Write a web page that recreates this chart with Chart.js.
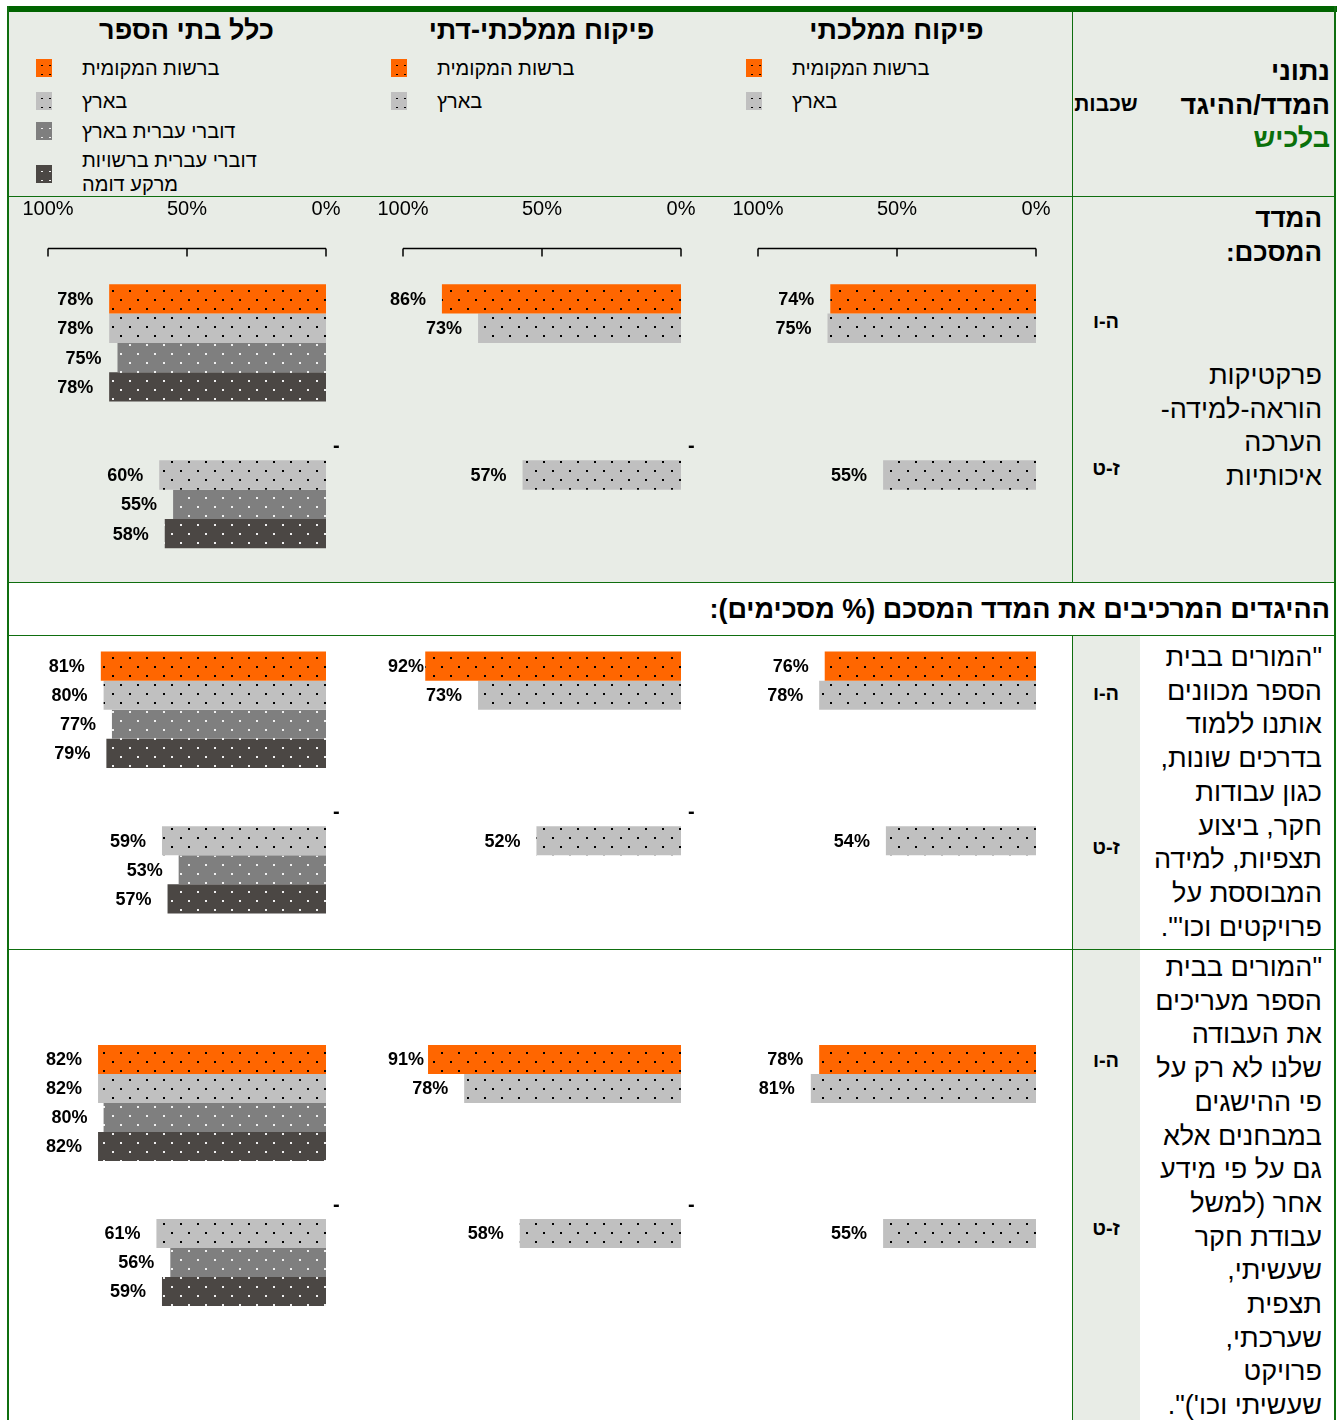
<!DOCTYPE html>
<html lang="he">
<head>
<meta charset="utf-8">
<title>המדד המסכם - לכיש</title>
<script src="https://cdn.jsdelivr.net/npm/chart.js@4.4.1/dist/chart.umd.min.js"></script>
<style>
  body { margin: 0; background: #fff; font-family: "Liberation Sans", Arial, sans-serif; color: #000; }
  #page { position: relative; width: 1338px; height: 1420px; overflow: hidden; }
  .abs { position: absolute; }
  .bg { position: absolute; background: #e8ece6; }
  .hl { position: absolute; height: 1px; background: #0f6e0f; }
  .vl { position: absolute; width: 1px; background: #0f6e0f; }
  .txt { position: absolute; direction: rtl; text-align: right; white-space: nowrap; }
  .big { font-size: 27px; line-height: 33.7px; }
  .bigb { font-size: 26px; line-height: 33.7px; font-weight: bold; }
  .grade { position: absolute; left: 1072px; width: 68px; text-align: center; font-weight: bold; font-size: 20px; line-height: 22px; direction: ltr; }
  .coltitle { position: absolute; top: 12px; height: 36px; line-height: 36px; width: 355px; text-align: center; font-weight: bold; font-size: 27px; direction: rtl; }
  .lg-box { position: absolute; width: 16px; height: 18px; background-size: 8px 9px; background-position: 2px 2px; }
  .lg-txt { position: absolute; font-size: 20px; line-height: 24px; direction: rtl; text-align: left; white-space: nowrap; }
  canvas { position: absolute; }
</style>
</head>
<body>
<div id="page">
  <!-- רקעים -->
  <div class="bg" style="left:7px; top:12px; width:1328px; height:570px;"></div>
  <div class="bg" style="left:1072px; top:635px; width:68px; height:785px;"></div>

  <!-- קווי טבלה -->
  <div class="abs" style="left:7px; top:6px; width:1330px; height:6px; background:#006400;"></div>
  <div class="vl" style="left:7px; top:6px; height:1414px; width:2px;"></div>
  <div class="vl" style="left:1334px; top:6px; height:1414px; width:2px;"></div>
  <div class="hl" style="left:7px; top:196px; width:1328px;"></div>
  <div class="hl" style="left:7px; top:582px; width:1328px;"></div>
  <div class="hl" style="left:7px; top:635px; width:1328px;"></div>
  <div class="hl" style="left:7px; top:949px; width:1328px;"></div>
  <div class="vl" style="left:1072px; top:12px; height:570px;"></div>
  <div class="vl" style="left:1072px; top:635px; height:785px;"></div>

  <!-- כותרת עמודה ימנית -->
  <div class="txt bigb" style="right:8px; top:55px; font-size:27px;">נתוני<br>המדד/ההיגד<br><span style="color:#0a700a;">בלכיש</span></div>
  <div class="txt" style="left:1073px; width:66px; top:92px; font-size:21px; line-height:24px; font-weight:bold; text-align:center;">שכבות</div>

  <!-- שורת המדד המסכם -->
  <div class="txt bigb" style="right:16px; top:202px;">המדד<br>המסכם:</div>
  <div class="txt big" style="right:16px; top:359px;">פרקטיקות<br>הוראה-למידה-<br>הערכה<br>איכותיות</div>
  <div class="grade" style="top:310px;">ה-ו</div>
  <div class="grade" style="top:457px;">ז-ט</div>

  <!-- כותרת ביניים -->
  <div class="txt" style="right:8px; top:593px; font-size:27px; line-height:32px; font-weight:bold;">ההיגדים המרכיבים את המדד המסכם (% מסכימים):</div>

  <!-- היגד 1 -->
  <div class="txt big" style="right:16px; top:641px;">"המורים בבית<br>הספר מכוונים<br>אותנו ללמוד<br>בדרכים שונות,<br>כגון עבודות<br>חקר, ביצוע<br>תצפיות, למידה<br>המבוססת על<br>פרויקטים וכו'".</div>
  <div class="grade" style="top:682px;">ה-ו</div>
  <div class="grade" style="top:836px;">ז-ט</div>

  <!-- היגד 2 -->
  <div class="txt big" style="right:16px; top:951px;">"המורים בבית<br>הספר מעריכים<br>את העבודה<br>שלנו לא רק על<br>פי ההישגים<br>במבחנים אלא<br>גם על פי מידע<br>אחר (למשל<br>עבודת חקר<br>שעשיתי,<br>תצפית<br>שערכתי,<br>פרויקט<br>שעשיתי וכו')".</div>
  <div class="grade" style="top:1049px;">ה-ו</div>
  <div class="grade" style="top:1217px;">ז-ט</div>
</div>

<script>
// ---- נתונים ----
const grades = ['ה-ו', 'ז-ט'];
const columns = ['כלל בתי הספר', 'פיקוח ממלכתי-דתי', 'פיקוח ממלכתי'];
const seriesNames = ['ברשות המקומית', 'בארץ', 'דוברי עברית בארץ', 'דוברי עברית ברשויות\nמרקע דומה'];
const seriesPerColumn = [4, 2, 2];
const xTicks = [0, 50, 100];
const missingMark = ['-', '-', ''];

// כל מערך: [ה-ו, ז-ט], ובתוך כל שכבה ערך לכל סדרה
const summaryAll   = [[78, 78, 75, 78], [null, 60, 55, 58]];
const summaryRel   = [[86, 73], [null, 57]];
const summaryState = [[74, 75], [null, 55]];

const item1All   = [[81, 80, 77, 79], [null, 59, 53, 57]];
const item1Rel   = [[92, 73], [null, 52]];
const item1State = [[76, 78], [null, 54]];

const item2All   = [[82, 82, 80, 82], [null, 61, 56, 59]];
const item2Rel   = [[91, 78], [null, 58]];
const item2State = [[78, 81], [null, 55]];

const rows = [
  [summaryAll, summaryRel, summaryState],
  [item1All, item1Rel, item1State],
  [item2All, item2Rel, item2State]
];

// ---- עיצוב ----
const colLeft = [7, 362, 717];
const colWidth = 355;
const barColors = ['#ff6600', '#c0c0c0', '#7f7f7f', '#4b4744'];
const dotColors = ['#000', '#000', '#f0f0f0', '#f0f0f0'];
// מיקום כל שורת גרפים: top, height, ריפוד עליון/תחתון, גובה ציר
const rowBox = [
  { top: 197, height: 385, padTop: 0, padBottom: 19, axis: true, axisHeight: 72.5 },
  { top: 636, height: 313, padTop: 1, padBottom: 21, axis: false },
  { top: 950, height: 470, padTop: 80.5, padBottom: 99.5, axis: false }
];

function makePattern(color, dot) {
  const c = document.createElement('canvas');
  c.width = 17; c.height = 18;
  const g = c.getContext('2d');
  g.fillStyle = color;
  g.fillRect(0, 0, 17, 18);
  g.fillStyle = dot;
  g.fillRect(3, 3, 2, 2);
  g.fillRect(11, 12, 2, 2);
  return g.createPattern(c, 'repeat');
}

const page = document.getElementById('page');

// כותרות ומקראות
columns.forEach((name, ci) => {
  const t = document.createElement('div');
  t.className = 'coltitle';
  t.style.left = (colLeft[ci] + 2) + 'px';
  t.textContent = name;
  page.appendChild(t);

  const centers = [68, 101, 131, 174];
  for (let s = 0; s < seriesPerColumn[ci]; s++) {
    const box = document.createElement('div');
    box.className = 'lg-box';
    box.style.left = (colLeft[ci] + 29) + 'px';
    box.style.top = (centers[s] - 9) + 'px';
    box.style.backgroundColor = barColors[s];
    box.style.backgroundImage = `radial-gradient(circle, ${dotColors[s]} 0.9px, transparent 1.1px)`;
    page.appendChild(box);

    const lines = seriesNames[s].split('\n');
    const txt = document.createElement('div');
    txt.className = 'lg-txt';
    txt.style.left = (colLeft[ci] + 75) + 'px';
    txt.style.top = (s === 3 ? 148 : centers[s] - 12) + 'px';
    txt.innerHTML = lines.join('<br>');
    page.appendChild(txt);
  }
});

const labelPlugin = {
  id: 'valueLabels',
  afterDatasetsDraw(chart) {
    const ctx = chart.ctx;
    const ci = chart.options.plugins.valueLabels.col;
    const x0 = chart.scales.x.getPixelForValue(0);
    ctx.save();
    ctx.textBaseline = 'middle';
    chart.data.datasets.forEach((ds, di) => {
      const meta = chart.getDatasetMeta(di);
      meta.data.forEach((bar, i) => {
        const v = ds.data[i];
        if (v === null || v === undefined) {
          if (di === 0 && missingMark[ci]) {
            ctx.font = 'bold 20px "Liberation Sans", Arial';
            ctx.fillStyle = '#000';
            ctx.textAlign = 'left';
            ctx.fillText(missingMark[ci], x0 + 7, bar.y + 1);
          }
          return;
        }
        const label = v + '%';
        ctx.font = 'bold 18px "Liberation Sans", Arial';
        ctx.fillStyle = '#000';
        ctx.textAlign = 'right';
        const w = ctx.measureText(label).width;
        const right = Math.max(bar.x - 16, 26 + w);
        ctx.fillText(label, right, bar.y + 1);
      });
    });
    ctx.restore();
  }
};

const bracketPlugin = {
  id: 'bracket',
  afterDraw(chart) {
    if (!chart.options.plugins.bracket.show) return;
    const ctx = chart.ctx;
    const sx = chart.scales.x;
    const y = chart.chartArea.top - 21;
    ctx.save();
    ctx.strokeStyle = '#000';
    ctx.lineWidth = 1.5;
    ctx.beginPath();
    ctx.moveTo(sx.getPixelForValue(100), y);
    ctx.lineTo(sx.getPixelForValue(0), y);
    xTicks.forEach(t => {
      const px = sx.getPixelForValue(t);
      ctx.moveTo(px, y);
      ctx.lineTo(px, y + 8);
    });
    ctx.stroke();
    ctx.restore();
  }
};

rows.forEach((rowData, ri) => {
  const box = rowBox[ri];
  rowData.forEach((vals, ci) => {
    const canvas = document.createElement('canvas');
    canvas.width = colWidth;
    canvas.height = box.height;
    canvas.style.left = colLeft[ci] + 'px';
    canvas.style.top = box.top + 'px';
    page.appendChild(canvas);

    const datasets = seriesNames.map((name, s) => ({
      label: name,
      data: grades.map((g, gi) => (vals[gi][s] === undefined ? null : vals[gi][s])),
      backgroundColor: makePattern(barColors[s], dotColors[s]),
      borderWidth: 0,
      barPercentage: 1,
      categoryPercentage: 0.8
    }));

    new Chart(canvas, {
      type: 'bar',
      data: { labels: grades, datasets: datasets },
      options: {
        indexAxis: 'y',
        responsive: false,
        animation: false,
        layout: { padding: { left: 41, right: 36, top: box.padTop, bottom: box.padBottom } },
        scales: {
          x: {
            display: box.axis,
            position: 'top',
            reverse: true,
            min: 0,
            max: 100,
            afterBuildTicks: scale => { scale.ticks = xTicks.map(v => ({ value: v })); },
            afterFit: scale => { if (box.axisHeight) scale.height = box.axisHeight; },
            grid: { display: false, drawTicks: false },
            border: { display: false },
            ticks: {
              padding: 48,
              maxRotation: 0,
              color: '#000',
              font: { family: '"Liberation Sans", Arial', size: 20 },
              callback: v => v + '%'
            }
          },
          y: { display: false }
        },
        plugins: {
          legend: { display: false },
          tooltip: { enabled: false },
          valueLabels: { col: ci },
          bracket: { show: box.axis }
        }
      },
      plugins: [labelPlugin, bracketPlugin]
    });
  });
});
</script>
</body>
</html>
